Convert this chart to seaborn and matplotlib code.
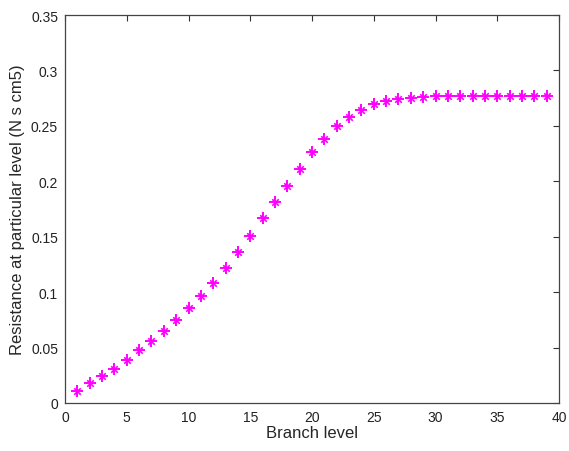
import matplotlib
matplotlib.use("Agg")
import matplotlib.pyplot as plt
import seaborn as sns
import pandas as pd
from matplotlib.ticker import FixedLocator, FuncFormatter

branch_level = list(range(1, 40))
resistance = [0.011, 0.018, 0.024, 0.0305, 0.0385, 0.0475, 0.0555, 0.065, 0.075, 0.0855,
              0.0965, 0.1085, 0.122, 0.136, 0.1505, 0.1665, 0.181, 0.196, 0.2115, 0.226,
              0.2385, 0.2495, 0.2576, 0.264, 0.2693, 0.272, 0.274, 0.275, 0.276, 0.277,
              0.277, 0.277, 0.277, 0.277, 0.277, 0.277, 0.277, 0.277, 0.277]
x_ticks = [0, 5, 10, 15, 20, 25, 30, 35, 40]
y_ticks = [0, 0.05, 0.1, 0.15, 0.2, 0.25, 0.3, 0.35]

sns.set_style("white")
plt.rcParams['font.family'] = ['Liberation Sans', 'DejaVu Sans']

df = pd.DataFrame({"Branch level": branch_level, "Resistance": resistance})

fig = plt.figure(figsize=(5.69, 4.52), dpi=100)
ax = fig.add_axes([65/569, 1-404/452, (559-65)/569, (404-16)/452])
sns.scatterplot(data=df, x="Branch level", y="Resistance", ax=ax,
                marker="+", s=75, color="#ff00ff", linewidth=1.4,
                legend=False)
sns.scatterplot(data=df, x="Branch level", y="Resistance", ax=ax,
                marker="x", s=22, color="#ff00ff", linewidth=1.2,
                legend=False)

ax.set_xlim(0, 40)
ax.set_ylim(0, 0.35)
ax.xaxis.set_major_locator(FixedLocator(x_ticks))
ax.yaxis.set_major_locator(FixedLocator(y_ticks))
ax.yaxis.set_major_formatter(FuncFormatter(lambda v, p: f"{v:g}"))
ax.tick_params(direction="in", length=4, width=0.8, top=True, right=True,
               labelsize=10, colors="#333333", labelcolor="#222222", pad=5)
for s in ax.spines.values():
    s.set_visible(True)
    s.set_color("#444444")
    s.set_linewidth(0.9)
ax.set_xlabel("Branch level", fontsize=12, labelpad=1)
ax.set_ylabel("Resistance at particular level (N s cm5)", fontsize=12, labelpad=4)

fig.savefig("out.png", dpi=100, facecolor="white")
